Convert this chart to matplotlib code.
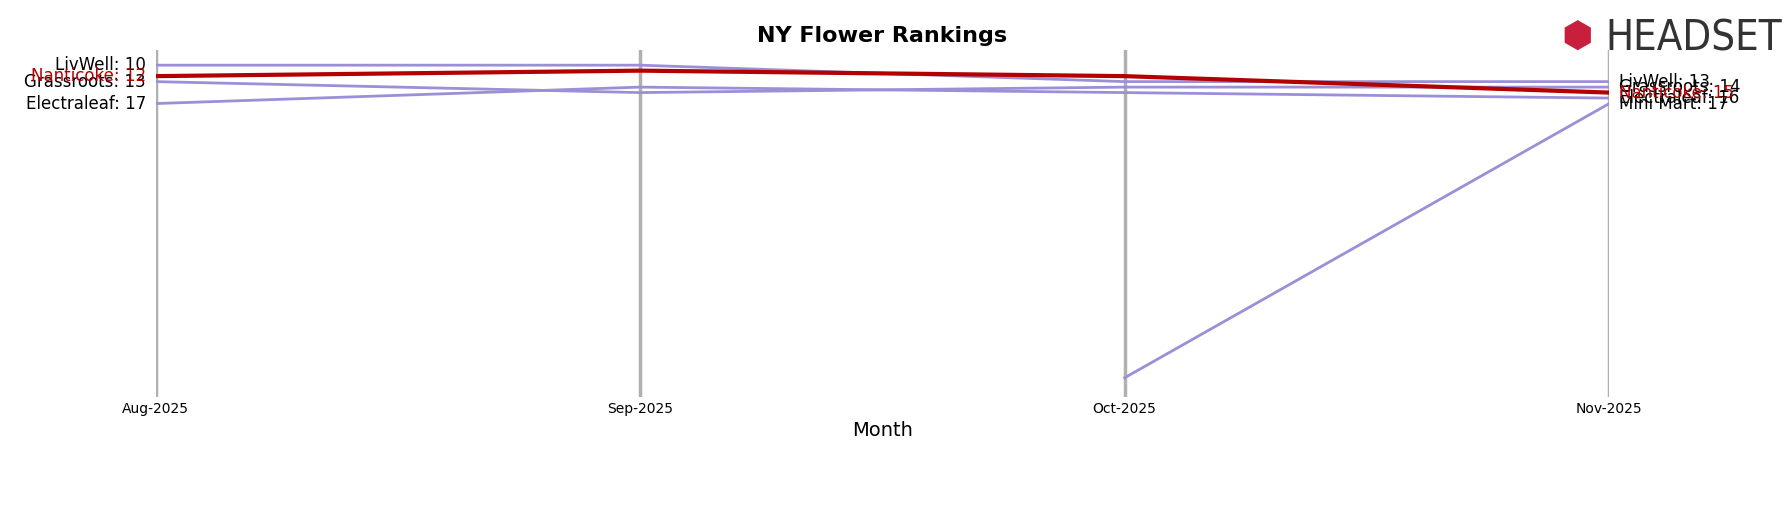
import matplotlib
matplotlib.use("Agg")
import matplotlib.pyplot as plt
import numpy as np

months = ["Aug-2025", "Sep-2025", "Oct-2025", "Nov-2025"]
livwell = [10, 10, 13, 13]
nanticoke = [12, 11, 12, 15]
grassroots = [13, 15, 14, 14]
electraleaf = [17, 14, 15, 16]
minimart = [np.nan, np.nan, 67, 17]

series = [("LivWell", livwell), ("Grassroots", grassroots), ("Electraleaf", electraleaf),
          ("Mini Mart", minimart), ("Nanticoke", nanticoke)]

fig = plt.figure(figsize=(17.88, 5.07), dpi=100)
ax = fig.add_axes([0.087, 0.217, 0.813, 0.684])
x = np.arange(len(months))
for xi in x:
    ax.axvline(xi, color="#b0b0b0", lw=2.5, zorder=0)
for name, vals in series:
    hl = name == "Nanticoke"
    c = "#b30000" if hl else "#9b8fd8"
    ax.plot(x, vals, color=c, lw=3 if hl else 2, zorder=3 if hl else 2)
    v = np.array(vals, dtype=float)
    idx = [i for i in range(len(v)) if not np.isnan(v[i])]
    f, l = idx[0], idx[-1]
    tc = "#b30000" if hl else "black"
    if f == 0:
        ax.text(-0.02, v[f], f"{name}: {int(v[f])}", ha="right", va="center", fontsize=12, color=tc)
    ax.text(x[-1] + 0.02, v[l], f"{name}: {int(v[l])}", ha="left", va="center", fontsize=12, color=tc)

ax.set_ylim(70.5, 7.27)
ax.set_xlim(0.0, 3.0)
ax.set_xticks(x)
ax.set_xticklabels(months, fontsize=10)
ax.set_yticks([])
ax.tick_params(axis="x", length=0)
for s in ax.spines.values():
    s.set_visible(False)
ax.set_xlabel("Month", fontsize=14)
ax.set_title("NY Flower Rankings", fontsize=16, fontweight="bold")
fig.text(0.898, 0.925, "HEADSET", fontsize=30, color="#333333", ha="left", va="center", fontstretch="condensed")
fig.text(0.882, 0.925, "\u2B22", fontsize=26, color="#c8203c", ha="center", va="center")
fig.savefig("out.png", dpi=100)
